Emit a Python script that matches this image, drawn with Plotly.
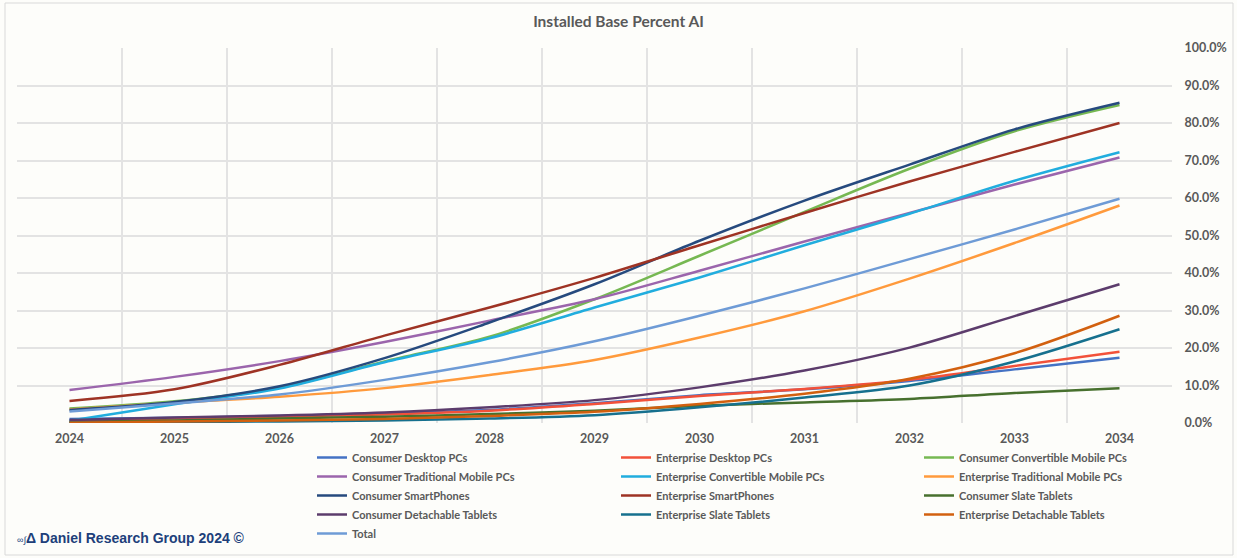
import plotly.graph_objects as go

# Installed base share with AI capability, by device segment (percent)
years = [2024, 2025, 2026, 2027, 2028, 2029, 2030, 2031, 2032, 2033, 2034]
year_labels = [str(y) for y in years]

consumer_desktop = [1.1, 1.4, 1.9, 2.6, 3.5, 5.3, 7.4, 9.0, 11.2, 14.3, 17.4]
enterprise_desktop = [0.5, 1.2, 1.7, 2.3, 3.3, 5.1, 7.2, 9.1, 11.5, 15.2, 19.0]
consumer_convertible = [3.9, 5.8, 9.4, 16.4, 23.0, 33.0, 44.6, 56.3, 67.8, 77.8, 84.8]
consumer_traditional = [8.8, 12.3, 16.5, 21.6, 27.3, 33.0, 40.6, 48.4, 56.0, 63.6, 70.8]
enterprise_convertible = [0.6, 5.0, 9.2, 16.2, 22.6, 30.8, 38.8, 47.4, 55.8, 64.6, 72.2]
enterprise_traditional = [3.6, 5.4, 7.0, 9.3, 12.8, 16.8, 22.8, 29.8, 38.5, 48.0, 58.0]
consumer_smartphones = [3.5, 5.6, 9.8, 17.3, 26.8, 37.0, 48.6, 59.3, 68.9, 78.3, 85.4]
enterprise_smartphones = [5.9, 9.0, 15.5, 23.3, 30.8, 38.7, 47.4, 56.0, 64.4, 72.3, 80.0]
consumer_slate = [0.3, 0.7, 1.2, 1.7, 2.4, 3.3, 4.6, 5.5, 6.4, 8.0, 9.3]
consumer_detachable = [0.8, 1.5, 2.0, 2.8, 4.2, 6.1, 9.5, 14.0, 20.1, 28.5, 37.0]
enterprise_slate = [0.1, 0.3, 0.4, 0.7, 1.2, 2.1, 4.2, 6.8, 10.0, 16.4, 25.0]
enterprise_detachable = [0.1, 0.4, 0.7, 1.1, 1.9, 3.0, 5.1, 7.8, 11.8, 18.6, 28.6]
total = [3.1, 5.2, 7.6, 11.5, 16.2, 21.8, 28.6, 35.9, 43.7, 51.6, 59.8]

y_ticks = [0, 10, 20, 30, 40, 50, 60, 70, 80, 90, 100]

series = [
    ("Consumer Desktop PCs", consumer_desktop, "#4472C4"),
    ("Enterprise Desktop PCs", enterprise_desktop, "#F2513A"),
    ("Consumer Convertible Mobile PCs", consumer_convertible, "#76B852"),
    ("Consumer Traditional Mobile PCs", consumer_traditional, "#9B65AC"),
    ("Enterprise Convertible Mobile PCs", enterprise_convertible, "#21ADDE"),
    ("Enterprise Traditional Mobile PCs", enterprise_traditional, "#FF9A3C"),
    ("Consumer SmartPhones", consumer_smartphones, "#264A7E"),
    ("Enterprise SmartPhones", enterprise_smartphones, "#9E3324"),
    ("Consumer Slate Tablets", consumer_slate, "#47702E"),
    ("Consumer Detachable Tablets", consumer_detachable, "#5C3C6C"),
    ("Enterprise Slate Tablets", enterprise_slate, "#16708E"),
    ("Enterprise Detachable Tablets", enterprise_detachable, "#D2600F"),
    ("Total", total, "#6E9BD6"),
]

BG = "#FDFDFA"
GRID = "#E3E3E3"
TXT = "#595959"
FONT = "Lato"

# plot area in pixels
L, R, T, B = 17, 65, 48, 135
W, H = 1237, 558
PW, PH = W - L - R, H - T - B


def px_x(px):
    return (px - L) / PW


def px_y(py):
    return (H - B - py) / PH


legend_names = ["legend", "legend2", "legend3"]

fig = go.Figure()
for i, (name, vals, color) in enumerate(series):
    fig.add_trace(go.Scatter(
        x=years, y=vals, name=f"<b>{name}</b>", mode="lines",
        line=dict(color=color, width=2.5, shape="spline", smoothing=0.9),
        legend=legend_names[i % 3],
        hoverinfo="skip",
    ))

legend_common = dict(
    orientation="v", yanchor="top", y=px_y(443), xanchor="left",
    itemwidth=30, bgcolor="rgba(0,0,0,0)", tracegroupgap=0,
    font=dict(family=FONT, size=11, color=TXT),
)

fig.update_layout(
    width=W, height=H,
    margin=dict(l=L, r=R, t=T, b=B, autoexpand=False),
    paper_bgcolor=BG, plot_bgcolor=BG,
    font=dict(family=FONT, color=TXT, size=12),
    title=dict(
        text="<b>Installed Base Percent AI</b>",
        x=0.5, xanchor="center", y=1 - 22 / H, yanchor="middle",
        font=dict(family=FONT, size=15.5, color=TXT),
    ),
    xaxis=dict(
        range=[2023.5, 2034.5],
        tickmode="array", tickvals=years,
        ticktext=[f"<b>{t}</b>" for t in year_labels],
        showgrid=False, zeroline=False, showline=False,
        ticks="outside", ticklen=4, tickcolor="rgba(0,0,0,0)",
        tickfont=dict(family=FONT, size=12.5, color=TXT),
        minor=dict(tick0=2023.5, dtick=1, showgrid=True,
                   gridcolor=GRID, gridwidth=1.5),
    ),
    yaxis=dict(
        range=[0, 100], side="right",
        tickmode="array", tickvals=y_ticks,
        ticktext=[f"<b>{v:.1f}%</b>" for v in y_ticks],
        showgrid=True, gridcolor=GRID, gridwidth=1.5,
        zeroline=False, showline=False,
        ticks="outside", ticklen=9, tickcolor="rgba(0,0,0,0)",
        tickfont=dict(family=FONT, size=12.5, color=TXT),
    ),
    legend=dict(x=px_x(312), **legend_common),
    legend2=dict(x=px_x(616), **legend_common),
    legend3=dict(x=px_x(919), **legend_common),
    showlegend=True,
)

# chart frame
fig.add_shape(
    type="rect", xref="paper", yref="paper",
    x0=px_x(5), x1=px_x(1233), y0=px_y(555), y1=px_y(3),
    line=dict(color="#D9D9D9", width=1), fillcolor="rgba(0,0,0,0)",
    layer="below",
)

fig.add_annotation(
    xref="paper", yref="paper",
    x=px_x(15), xanchor="left", y=px_y(538), yanchor="middle",
    text="<span style=\"font-size:9px\">∞∫</span><b>Δ Daniel Research Group 2024 ©</b>",
    showarrow=False,
    font=dict(family="Liberation Sans", size=14, color="#203F7A"),
)

fig.write_html("out.html")
